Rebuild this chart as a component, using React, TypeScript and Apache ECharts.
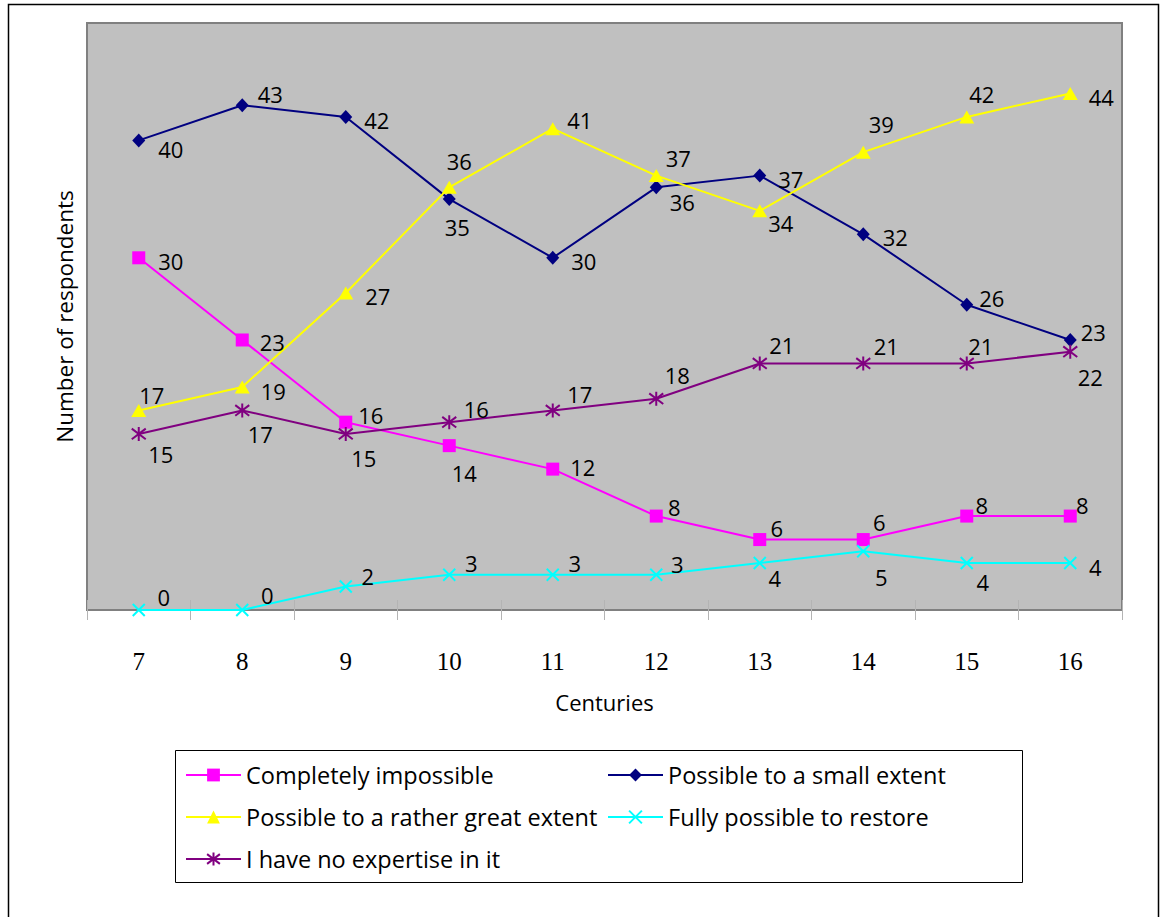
import React, { useEffect, useRef } from 'react';
import * as echarts from 'echarts';

const centuries = ['7', '8', '9', '10', '11', '12', '13', '14', '15', '16'];
const seriesNames = [
  'Completely impossible',
  'Possible to a small extent',
  'Possible to a rather great extent',
  'Fully possible to restore',
  'I have no expertise in it',
];
const completelyImpossible = [30, 23, 16, 14, 12, 8, 6, 6, 8, 8];
const smallExtent = [40, 43, 42, 35, 30, 36, 37, 32, 26, 23];
const ratherGreatExtent = [17, 19, 27, 36, 41, 37, 34, 39, 42, 44];
const fullyPossible = [0, 0, 2, 3, 3, 3, 4, 5, 4, 4];
const noExpertise = [15, 17, 15, 16, 17, 18, 21, 21, 21, 22];

// label offsets (styling only), relative to each marker centre
const offImpossible = [[32, 3], [30, 2], [25, -7], [15, 27], [30, -2], [18, -9], [17, -12], [16, -18], [15, -11], [12, -11]];
const offSmall = [[32, 9], [28, -11], [31, 3], [8, 28], [31, 3], [26, 15], [31, 3], [32, 3], [25, -7], [23, -8]];
const offGreat = [[13, -15], [31, 4], [32, 3], [10, -26], [27, -9], [22, -18], [21, 12], [18, -28], [15, -23], [31, 4]];
const offFully = [[25, -13], [25, -15], [22, -11], [22, -12], [22, -12], [21, -11], [15, 15], [18, 26], [16, 19], [25, 4]];
const offNoExp = [[22, 20], [18, 24], [18, 24], [27, -13], [27, -16], [21, -24], [22, -18], [23, -17], [14, -17], [20, 25]];

const SANS = 'Open Sans';

function makeSeries(name: string, values: number[], offsets: number[][], color: string, symbol: string, symbolSize: any, stroked: boolean) {
  return {
    name,
    type: 'line',
    data: values.map((v, i) => ({ value: v, label: { offset: offsets[i] } })),
    symbol,
    symbolSize,
    showAllSymbol: true,
    lineStyle: { color, width: 2 },
    itemStyle: stroked ? { color, borderColor: color, borderWidth: 2 } : { color },
    label: {
      show: true,
      position: 'inside',
      align: 'center',
      verticalAlign: 'middle',
      color: '#000',
      fontFamily: SANS,
      fontSize: 22,
    },
    emphasis: { disabled: true },
  };
}

export default function App() {
  const ref = useRef<HTMLDivElement>(null);
  useEffect(() => {
    if (!ref.current) return;
    const chart = echarts.init(ref.current, undefined, { renderer: 'svg' });
    const star = 'path://M5,0L5,10M1.2,1.2L8.8,8.8M8.8,1.2L1.2,8.8';
    const cross = 'path://M0,0L10,10M10,0L0,10';
    const legendCommon = {
      orient: 'vertical',
      top: 758,
      itemWidth: 55,
      itemHeight: 16,
      itemGap: 18,
      selectedMode: false,
      textStyle: { fontFamily: SANS, fontSize: 23.5, color: '#000' },
    };
    chart.setOption({
      animation: false,
      backgroundColor: '#ffffff',
      grid: {
        show: true,
        left: 87,
        right: 40,
        top: 23,
        bottom: 307,
        backgroundColor: '#c0c0c0',
        borderColor: '#808080',
        borderWidth: 2,
        outerBoundsMode: 'none',
      },
      xAxis: [
        {
          type: 'category',
          data: centuries,
          boundaryGap: true,
          axisLine: { show: true, lineStyle: { color: '#808080', width: 2 } },
          axisTick: { show: true, length: 10, lineStyle: { color: '#b4b4b4', width: 1 } },
          axisLabel: { margin: 39, fontFamily: 'Liberation Serif', fontSize: 25, color: '#000' },
          name: 'Centuries',
          nameLocation: 'middle',
          nameGap: 81,
          nameTextStyle: { fontFamily: SANS, fontSize: 22, color: '#000' },
        },
        {
          type: 'category',
          data: centuries,
          position: 'bottom',
          boundaryGap: true,
          axisLine: { show: false },
          axisTick: { show: true, inside: true, length: 10, lineStyle: { color: '#b4b4b4', width: 1 } },
          axisLabel: { show: false },
        },
      ],
      yAxis: {
        type: 'value',
        min: 0,
        max: 50,
        axisLine: { show: false },
        axisTick: { show: false },
        axisLabel: { show: false },
        splitLine: { show: false },
        name: 'Number of respondents',
        nameLocation: 'middle',
        nameGap: 11,
        nameTextStyle: { fontFamily: SANS, fontSize: 22.5, color: '#000' },
      },
      legend: [
        { ...legendCommon, left: 180, data: [seriesNames[0], seriesNames[2], seriesNames[4]] },
        { ...legendCommon, left: 602, data: [seriesNames[1], seriesNames[3]] },
      ],
      graphic: [
        {
          type: 'rect',
          shape: { x: 8.5, y: 4.5, width: 1150, height: 930 },
          style: { fill: 'none', stroke: '#000', lineWidth: 1.5 },
          silent: true,
        },
        {
          type: 'rect',
          shape: { x: 175.5, y: 750.5, width: 847, height: 132 },
          style: { fill: 'none', stroke: '#000', lineWidth: 1 },
          silent: true,
        },
      ],
      series: [
        makeSeries(seriesNames[0], completelyImpossible, offImpossible, '#ff00ff', 'rect', 13, false),
        makeSeries(seriesNames[1], smallExtent, offSmall, '#000080', 'diamond', [13, 14], false),
        makeSeries(seriesNames[2], ratherGreatExtent, offGreat, '#ffff00', 'triangle', [15, 13], false),
        makeSeries(seriesNames[3], fullyPossible, offFully, '#00ffff', cross, 12, true),
        makeSeries(seriesNames[4], noExpertise, offNoExp, '#800080', star, 14, true),
      ],
    });
    return () => chart.dispose();
  }, []);
  return (
    <div
      ref={ref}
      style={{ position: 'fixed', left: 0, top: 0, width: 1162, height: 917, background: '#fff' }}
    />
  );
}
